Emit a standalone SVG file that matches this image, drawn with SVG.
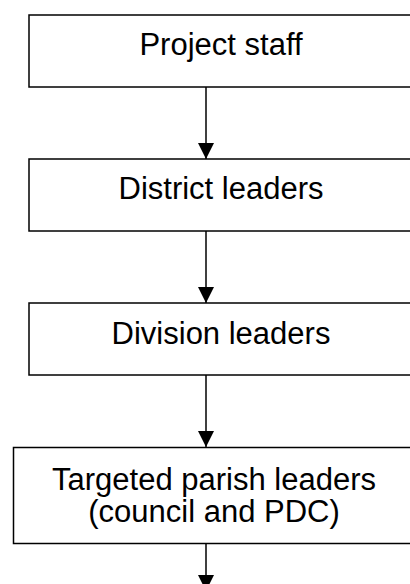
<svg xmlns="http://www.w3.org/2000/svg" width="410" height="584" viewBox="0 0 410 584">
<style>
.box{fill:#fff;stroke:#000;stroke-width:1.5}
.lbl{font-family:"Liberation Sans",Arial,sans-serif;font-size:31px;fill:#000;text-anchor:middle}
.con{stroke:#000;stroke-width:1.5;fill:none}
</style>
<defs>
<marker id="ah" markerUnits="userSpaceOnUse" markerWidth="16" markerHeight="16" viewBox="0 0 14 14" refX="14" refY="7" orient="auto">
<path d="M0,0 L14,7 L0,14 Z" fill="#000"/>
</marker>
</defs>
<rect width="410" height="584" fill="#fff"/>
<g id="connectors">
<line class="con" x1="206" y1="87" x2="206" y2="159" marker-end="url(#ah)"/>
<line class="con" x1="206" y1="231" x2="206" y2="303" marker-end="url(#ah)"/>
<line class="con" x1="206" y1="375" x2="206" y2="447" marker-end="url(#ah)"/>
<line class="con" x1="206" y1="543" x2="206" y2="591" marker-end="url(#ah)"/>
</g>
<g id="n1"><rect class="box" x="29" y="15" width="384" height="72"/><text class="lbl" x="221" y="55">Project staff</text></g>
<g id="n2"><rect class="box" x="29" y="159" width="384" height="72"/><text class="lbl" x="221" y="199">District leaders</text></g>
<g id="n3"><rect class="box" x="29" y="303" width="384" height="72"/><text class="lbl" x="221" y="344">Division leaders</text></g>
<g id="n4"><rect class="box" x="13.5" y="447.5" width="400" height="96"/><text class="lbl" x="214" y="490">Targeted parish leaders</text><text class="lbl" x="214" y="521.5">(council and PDC)</text></g>
</svg>
